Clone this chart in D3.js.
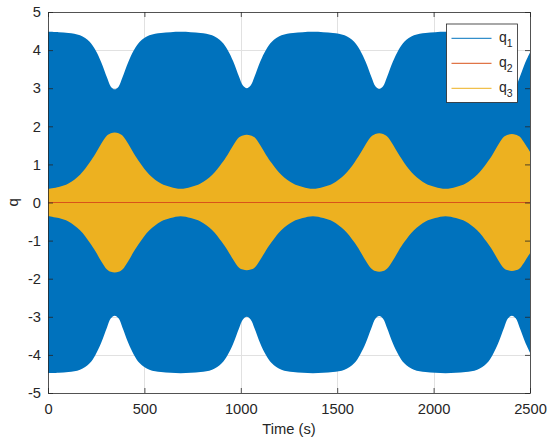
<!DOCTYPE html>
<html>
<head>
<meta charset="utf-8">
<script src="https://cdn.jsdelivr.net/npm/d3@7"></script>
<style>
    body { margin: 0; background: #fff; }
    text { font-family: "Liberation Sans", Arial, Helvetica, sans-serif; fill: #262626; }
</style>
</head>
<body>
<div id="chart-area"></div>
<script>

// Envelope samples (amplitude of the dense oscillation)
let times = [0, 56, 106, 166, 216, 246, 276, 306, 326, 346, 366, 386, 416, 446, 476, 526, 586, 636,
    688,
    741, 791, 851, 901, 931, 961, 991, 1011, 1031, 1051, 1071, 1101, 1131, 1161, 1211, 1271, 1321,
    1374,
    1428, 1478, 1538, 1588, 1618, 1648, 1678, 1698, 1718, 1738, 1758, 1788, 1818, 1848, 1898, 1958, 2008,
    2062,
    2116, 2166, 2226, 2276, 2306, 2336, 2366, 2386, 2406, 2426, 2446, 2476, 2500];

let q1Amp = [4.48, 4.47, 4.45, 4.39, 4.22, 4.0, 3.68, 3.28, 3.04, 2.97, 3.04, 3.28, 3.68, 4.0, 4.22, 4.39, 4.45, 4.47,
    4.48,
    4.47, 4.45, 4.39, 4.22, 4.01, 3.7, 3.3, 3.07, 3.0, 3.07, 3.3, 3.7, 4.01, 4.22, 4.39, 4.45, 4.47,
    4.48,
    4.47, 4.45, 4.39, 4.22, 4.0, 3.69, 3.29, 3.05, 2.98, 3.05, 3.29, 3.69, 4.0, 4.22, 4.39, 4.45, 4.47,
    4.48,
    4.47, 4.45, 4.39, 4.22, 4.0, 3.68, 3.28, 3.04, 2.97, 3.04, 3.28, 3.68, 3.94];

let q3Amp = [0.36, 0.41, 0.5, 0.73, 1.05, 1.28, 1.54, 1.76, 1.82, 1.84, 1.82, 1.76, 1.54, 1.28, 1.05, 0.73, 0.5, 0.41,
    0.36,
    0.41, 0.5, 0.72, 1.03, 1.25, 1.5, 1.71, 1.76, 1.78, 1.76, 1.71, 1.5, 1.25, 1.03, 0.72, 0.5, 0.41,
    0.36,
    0.41, 0.5, 0.73, 1.04, 1.27, 1.53, 1.74, 1.8, 1.82, 1.8, 1.74, 1.53, 1.27, 1.04, 0.73, 0.5, 0.41,
    0.36,
    0.41, 0.5, 0.73, 1.04, 1.26, 1.52, 1.73, 1.78, 1.8, 1.78, 1.73, 1.52, 1.33];

let q2Times = [0, 2500];
let q2Vals = [0, 0];

let xTicks = [0, 500, 1000, 1500, 2000, 2500];
let yTicks = [-5, -4, -3, -2, -1, 0, 1, 2, 3, 4, 5];

let seriesNames = ["1", "2", "3"];
let colors = ["#0072BD", "#D95319", "#EDB120"];

// SVG drawing area
let margin = {top: 12, right: 18, bottom: 53, left: 48};

let width = 548 - margin.left - margin.right,
    height = 446 - margin.top - margin.bottom;

let svg = d3.select("#chart-area").append("svg")
    .attr("width", 548)
    .attr("height", 446)
    .append("g")
    .attr("transform", "translate(" + margin.left + "," + margin.top + ")");

// Scales
let x = d3.scaleLinear()
    .domain([0, 2500])
    .range([0, width]);

let y = d3.scaleLinear()
    .domain([-5, 5])
    .range([height, 0]);

// plain tick labels, ascii minus like matlab
let fmt = d => String(d);

// Grid
svg.append("g").selectAll("line.vgrid")
    .data(xTicks.slice(1, -1))
    .enter().append("line")
    .attr("x1", d => Math.round(x(d)) + 0.5)
    .attr("x2", d => Math.round(x(d)) + 0.5)
    .attr("y1", 0).attr("y2", height)
    .attr("stroke", "#e1e1e1");

svg.append("g").selectAll("line.hgrid")
    .data(yTicks.slice(1, -1))
    .enter().append("line")
    .attr("y1", d => Math.round(y(d)) + 0.5)
    .attr("y2", d => Math.round(y(d)) + 0.5)
    .attr("x1", 0).attr("x2", width)
    .attr("stroke", "#e1e1e1");

// Envelopes
let env1 = times.map((t, i) => ({t: t, a: q1Amp[i]}));
let env3 = times.map((t, i) => ({t: t, a: q3Amp[i]}));

let band = d3.area()
    .x(d => x(d.t))
    .y0(d => y(-d.a))
    .y1(d => y(d.a))
    .curve(d3.curveCatmullRom.alpha(0.5));

svg.append("path")
    .attr("d", band(env1))
    .attr("fill", colors[0]);

svg.append("path")
    .attr("d", band(env3))
    .attr("fill", colors[2]);

let line = d3.line()
    .x((d, i) => x(q2Times[i]))
    .y(d => y(d));

svg.append("path")
    .attr("d", line(q2Vals))
    .attr("fill", "none")
    .attr("stroke", colors[1])
    .attr("stroke-width", 1);

// Axes (ticks pointing inward, box style)
let fontSize = "14.7px";

let xAxisGroup = svg.append("g")
    .attr("transform", "translate(0," + height + ")")
    .call(d3.axisBottom(x).tickValues(xTicks).tickFormat(fmt).tickSizeInner(-5).tickSizeOuter(0).tickPadding(10.5));

let xTopGroup = svg.append("g")
    .call(d3.axisTop(x).tickValues(xTicks).tickSizeInner(-5).tickSizeOuter(0).tickFormat(""));

let yAxisGroup = svg.append("g")
    .call(d3.axisLeft(y).tickValues(yTicks).tickFormat(fmt).tickSizeInner(-5).tickSizeOuter(0).tickPadding(7));

let yRightGroup = svg.append("g")
    .attr("transform", "translate(" + width + ",0)")
    .call(d3.axisRight(y).tickValues(yTicks).tickSizeInner(-5).tickSizeOuter(0).tickFormat(""));

svg.selectAll(".domain, .tick line")
    .attr("stroke", "#262626")
    .attr("stroke-width", 0.8);

svg.selectAll(".tick text")
    .attr("fill", "#262626")
    .style("font-family", "'Liberation Sans', Arial, sans-serif")
    .style("font-size", fontSize);

// Axis titles
svg.append("text")
    .attr("x", width / 2)
    .attr("y", height + 41)
    .attr("text-anchor", "middle")
    .style("font-size", fontSize)
    .text("Time (s)");

svg.append("text")
    .attr("transform", "translate(" + (18 - margin.left) + "," + (height / 2) + ") rotate(-90)")
    .attr("text-anchor", "middle")
    .style("font-size", fontSize)
    .text("q");

// Legend
let legend = svg.append("g")
    .attr("transform", "translate(" + (446.5 - margin.left) + "," + (24 - margin.top) + ")");

legend.append("rect")
    .attr("width", 71)
    .attr("height", 78.5)
    .attr("fill", "#fff")
    .attr("stroke", "#262626")
    .attr("stroke-width", 0.8);

let items = legend.selectAll(".item")
    .data(seriesNames)
    .enter().append("g")
    .attr("class", "item")
    .attr("transform", (d, i) => "translate(0," + (14.3 + i * 25) + ")");

items.append("line")
    .attr("x1", 5).attr("x2", 45)
    .attr("stroke", (d, i) => colors[i])
    .attr("stroke-width", 1);

let labels = items.append("text")
    .attr("x", 52.5)
    .attr("y", 3.6)
    .style("font-size", "14px")
    .text("q");

labels.append("tspan")
    .attr("dy", 5)
    .style("font-size", "10.5px")
    .text(d => d);

</script>
</body>
</html>
